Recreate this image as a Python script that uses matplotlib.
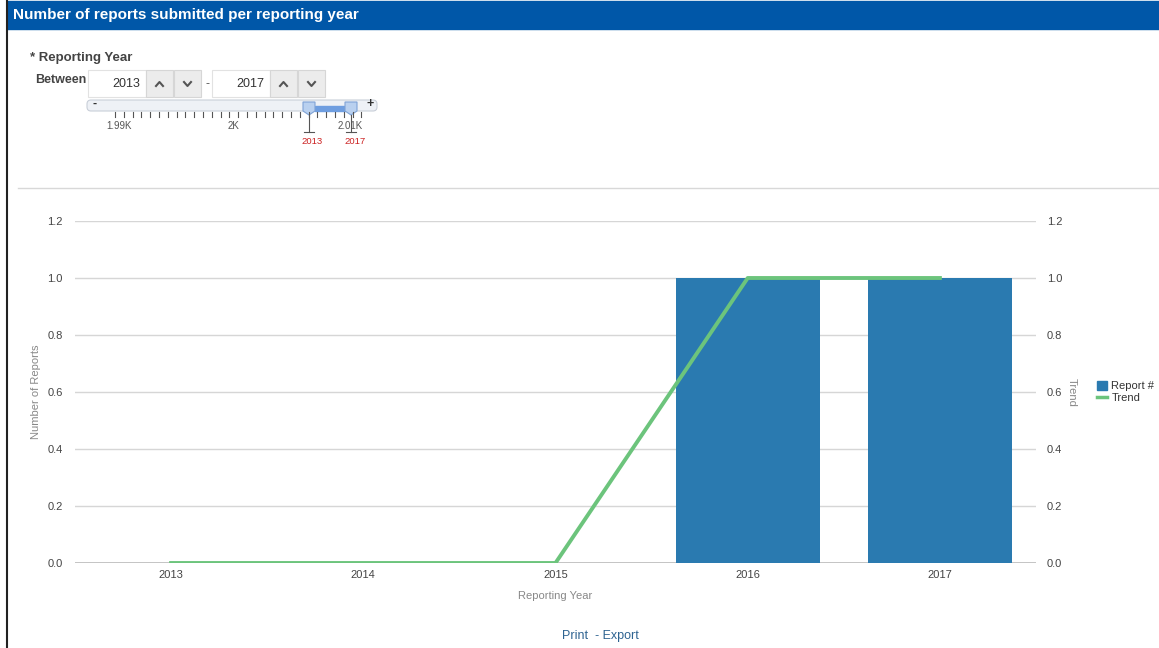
import matplotlib.pyplot as plt
from matplotlib.patches import Rectangle, FancyBboxPatch, Polygon
from matplotlib.lines import Line2D

plt.rcParams['font.family'] = ['Liberation Sans', 'DejaVu Sans']

# data
years = ['2013', '2014', '2015', '2016', '2017']
report_counts = [0, 0, 0, 1, 1]
trend = [0, 0, 0, 1, 1]
y_ticks = [0.0, 0.2, 0.4, 0.6, 0.8, 1.0, 1.2]

bar_color = '#2a7ab0'
line_color = '#6cc47c'
grid_color = '#d6d6d6'
tick_color = '#444444'
label_color = '#888888'

W, H = 1159, 648
fig = plt.figure(figsize=(W / 100, H / 100), dpi=100)

# page decoration layer in pixel coordinates
bg = fig.add_axes([0, 0, 1, 1])
bg.set_xlim(0, W)
bg.set_ylim(H, 0)
bg.axis('off')

bg.add_patch(Rectangle((7, 1), W - 7, 28, color='#0057a8'))
bg.plot([7, 7], [0, H], color='#222222', lw=1.5)
bg.text(13, 15, 'Number of reports submitted per reporting year', color='white',
        fontsize=11, fontweight='bold', va='center')
bg.text(30, 58, '* Reporting Year', color='#444444', fontsize=9.5, fontweight='bold', va='center')
bg.text(35, 80, 'Between', color='#444444', fontsize=9, fontweight='bold', va='center')

# year spinner boxes
for x0, val in [(88, '2013'), (212, '2017')]:
    bg.add_patch(Rectangle((x0, 70), 58, 27, fc='white', ec='#e2e2e2', lw=0.8))
    bg.text(x0 + 52, 84, val, fontsize=9, color='#333333', ha='right', va='center')
    for k, sym in enumerate(['^', 'v']):
        bx = x0 + 58 + k * 28
        bg.add_patch(Rectangle((bx, 70), 27, 27, fc='#ececec', ec='#d6d6d6', lw=0.8))
        bg.plot([bx + 10, bx + 13.5, bx + 17], [86, 82, 86] if sym == '^' else [82, 86, 82],
                color='#555555', lw=1.5)
bg.text(207, 84, '-', fontsize=9, color='#555555', ha='center', va='center')

# range slider
bg.add_patch(FancyBboxPatch((87, 100), 290, 11, boxstyle='round,pad=0,rounding_size=4',
                            fc='#eef1f6', ec='#c9cfd8', lw=0.8))
bg.text(95, 104, '-', fontsize=9, fontweight='bold', color='#333333', ha='center', va='center')
bg.text(370, 104, '+', fontsize=9, fontweight='bold', color='#333333', ha='center', va='center')
for i in range(29):
    tx = 115 + i * 8.8
    bg.plot([tx, tx], [112, 117], color='#555555', lw=0.8)
bg.add_patch(Rectangle((315, 106), 30, 5, color='#6f9ee0'))
for hx in (303, 345):
    bg.add_patch(Polygon([(hx, 102), (hx + 12, 102), (hx + 12, 111), (hx + 6, 115), (hx, 111)],
                         closed=True, fc='#b9d0ef', ec='#7fa3d6', lw=0.8))
for hx in (309, 351):
    bg.plot([hx, hx], [115, 132], color='#555555', lw=0.8)
    bg.plot([hx - 5, hx + 5], [132, 132], color='#555555', lw=0.8)
for tx, lab in [(312, '2013'), (355, '2017')]:
    bg.text(tx, 142, lab, fontsize=6.8, color='#cc2222', ha='center', va='center')
for tx, lab in [(119, '1.99K'), (233, '2K'), (350, '2.01K')]:
    bg.text(tx, 126, lab, fontsize=7, color='#555555', ha='center', va='center')

bg.plot([18, W], [188, 188], color='#d8d8d8', lw=1)
bg.text(600, 636, 'Print  - Export', fontsize=9, color='#2e6391', ha='center', va='center')

# chart
ax = fig.add_axes([75 / W, 85 / H, 961 / W, 342 / H])
x = range(len(years))
ax.bar(x, report_counts, width=0.75, color=bar_color, zorder=2, label='Report #')
ax.set_xlim(-0.5, len(years) - 0.5)
ax.set_ylim(0, 1.2)
ax.set_yticks(y_ticks)
ax.set_yticklabels([f'{v:.1f}' for v in y_ticks])
ax.set_xticks(list(x))
ax.set_xticklabels(years)
ax.grid(axis='y', color=grid_color, lw=1, zorder=0)
ax.axhline(0, color='#b5b5b5', lw=1.2, zorder=1)
for s in ax.spines.values():
    s.set_visible(False)
ax.tick_params(axis='both', length=0, labelsize=8, labelcolor=tick_color, pad=9)
ax.tick_params(axis='x', pad=5)
ax.set_xlabel('Reporting Year', fontsize=8, color=label_color, labelpad=8)
ax.set_ylabel('Number of Reports', fontsize=8, color=label_color, labelpad=4)

ax2 = ax.twinx()
ax2.plot(x, trend, color=line_color, lw=2.8, zorder=3, label='Trend')
ax2.set_ylim(0, 1.2)
ax2.set_yticks(y_ticks)
ax2.set_yticklabels([f'{v:.1f}' for v in y_ticks])
for s in ax2.spines.values():
    s.set_visible(False)
ax2.tick_params(axis='y', length=0, labelsize=8, labelcolor=tick_color, pad=8)
ax2.set_ylabel('Trend', fontsize=8, color=label_color, rotation=270, labelpad=10)

handles = [Rectangle((0, 0), 1, 1, color=bar_color), Line2D([], [], color=line_color, lw=2.5)]
fig.legend(handles, ['Report #', 'Trend'], loc='center left', bbox_to_anchor=(1087 / W, 1 - 392 / H),
           frameon=False, fontsize=8, handlelength=0.9, handleheight=0.9, handletextpad=0.4,
           labelspacing=0.1, labelcolor='#333333')

fig.savefig('out.png', dpi=100)
